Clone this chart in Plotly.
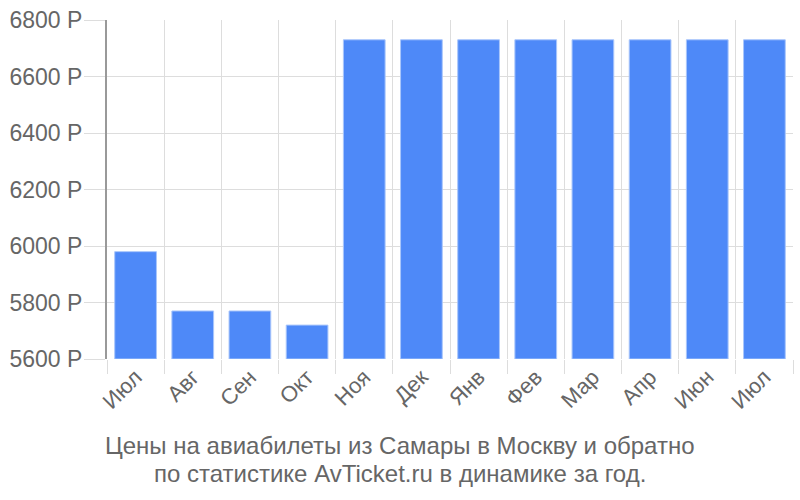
import plotly.graph_objects as go

months = ["Июл", "Авг", "Сен", "Окт", "Ноя", "Дек", "Янв", "Фев", "Мар", "Апр", "Июн", "Июл"]
prices = [5980, 5770, 5770, 5720, 6730, 6730, 6730, 6730, 6730, 6730, 6730, 6730]
y_ticks = [5600, 5800, 6000, 6200, 6400, 6600, 6800]
title_lines = ["Цены на авиабилеты из Самары в Москву и обратно",
               "по статистике AvTicket.ru в динамике за год."]

xpos = list(range(len(months)))
font_family = "Liberation Sans, Arial, sans-serif"
text_color = "#666666"
grid_color = "#dddddd"

fig = go.Figure()
fig.add_trace(go.Bar(
    x=xpos, y=[p - y_ticks[0] for p in prices], base=y_ticks[0],
    marker=dict(color="#4e89f8", line=dict(color="#a9c6fb", width=1)),
    width=0.73,
    hoverinfo="skip",
))

fig.update_layout(
    width=800, height=500,
    margin=dict(l=107, r=7, t=15, b=141),
    paper_bgcolor="white", plot_bgcolor="white",
    showlegend=False,
    font=dict(family=font_family, color=text_color, size=22),
    xaxis=dict(
        range=[-0.5, len(months) - 0.5],
        tickmode="array", tickvals=xpos, ticktext=months,
        tickangle=-45, showgrid=False, ticks="",
        tickfont=dict(size=22, color=text_color),
        zeroline=False, showline=False,
        minor=dict(tickmode="array", tickvals=[i - 0.5 for i in range(len(months) + 1)],
                   showgrid=True, gridcolor=grid_color, gridwidth=1,
                   ticks="outside", ticklen=14, tickcolor=grid_color, tickwidth=1),
    ),
    yaxis=dict(
        range=[y_ticks[0], y_ticks[-1]],
        tickmode="array", tickvals=y_ticks, ticktext=[f"{v} Р" for v in y_ticks],
        showgrid=True, gridcolor=grid_color, gridwidth=1,
        ticks="outside", ticklen=21, tickcolor=grid_color, tickwidth=1,
        ticklabelstandoff=-3,
        tickfont=dict(size=23, color=text_color),
        showline=True, linecolor="#999999", linewidth=2,
        zeroline=False,
    ),
)

for line, ypix in zip(title_lines, [447, 475]):
    fig.add_annotation(
        text=line, xref="paper", yref="paper",
        x=(400 - 107) / 686, y=-(ypix - 359) / 344, xanchor="center", yanchor="middle",
        showarrow=False, align="center",
        font=dict(size=24, color=text_color, family=font_family),
    )

fig.write_html("out.html")
